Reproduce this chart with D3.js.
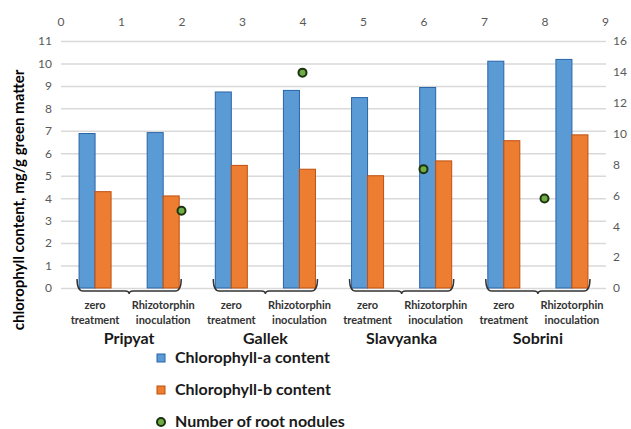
<!DOCTYPE html>
<style>
body { margin: 0; background: #fff; }
text { font-family: Lato, "Open Sans", sans-serif; }
</style>
<body></body>
<script src="https://d3js.org/d3.v7.min.js"></script>
<script>
const categories = ['P-zero', 'P-rh', 'G-zero', 'G-rh', 'S-zero', 'S-rh', 'B-zero', 'B-rh']
const treatmentLabels = [['zero', 'treatment'], ['Rhizotorphin', 'inoculation']]
const varieties = ['Pripyat', 'Gallek', 'Slavyanka', 'Sobrini']
const chlorophyllA = [6.88, 6.92, 8.73, 8.8, 8.48, 8.93, 10.1, 10.18]
const chlorophyllB = [4.29, 4.1, 5.46, 5.29, 5.0, 5.66, 6.56, 6.82]
const nodulesX = [2, 4, 6, 8]
const nodules = [5.0, 13.95, 7.7, 5.8]
const legendLabels = ['Chlorophyll-a content', 'Chlorophyll-b content', 'Number of root nodules']

const width = 631
const height = 429
const plot = { left: 61, right: 606, top: 41, bottom: 288 }

const svg = d3.select('body').append('svg')
    .attr('width', width)
    .attr('height', height)

const y = d3.scaleLinear().domain([0, 11]).range([plot.bottom, plot.top])
const y2 = d3.scaleLinear().domain([0, 16]).range([plot.bottom, plot.top])
const xTop = d3.scaleLinear().domain([0, 9]).range([60.5, 605])
const x0 = d3.scaleBand()
    .domain(categories)
    .range([plot.left, plot.right])
    .paddingInner(0.53)
    .paddingOuter(0.265)
const x1 = d3.scaleBand().domain(['a', 'b']).range([0, x0.bandwidth()])

// left axis + gridlines
const leftAxis = svg.append('g')
    .attr('transform', `translate(${plot.left},0)`)
    .call(d3.axisLeft(y).ticks(11).tickSize(-(plot.right - plot.left)).tickPadding(9))
leftAxis.select('.domain').remove()
leftAxis.selectAll('line').attr('stroke', '#d9d9d9').attr('stroke-width', 1.5)
leftAxis.selectAll('text').attr('fill', '#595959').style('font-size', '12px')

// right axis
const rightAxis = svg.append('g')
    .attr('transform', `translate(${plot.right},0)`)
    .call(d3.axisRight(y2).tickValues(d3.range(0, 17, 2)).tickSize(0).tickPadding(7))
rightAxis.select('.domain').remove()
rightAxis.selectAll('text').attr('fill', '#595959').style('font-size', '12px')

// top axis
const topAxis = svg.append('g')
    .attr('transform', `translate(0,${plot.top})`)
    .call(d3.axisTop(xTop).ticks(9).tickSize(0).tickPadding(15))
topAxis.select('.domain').remove()
topAxis.selectAll('text').attr('fill', '#595959').style('font-size', '12px')

// bars
const bars = svg.append('g')
categories.forEach((c, i) => {
    bars.append('rect')
        .attr('x', x0(c) + x1('a'))
        .attr('y', y(chlorophyllA[i]))
        .attr('width', x1.bandwidth())
        .attr('height', y(0) - y(chlorophyllA[i]))
        .attr('fill', '#5b9bd5')
        .attr('stroke', '#2a64a8')
        .attr('stroke-width', 1)
    bars.append('rect')
        .attr('x', x0(c) + x1('b'))
        .attr('y', y(chlorophyllB[i]))
        .attr('width', x1.bandwidth())
        .attr('height', y(0) - y(chlorophyllB[i]))
        .attr('fill', '#ed7d31')
        .attr('stroke', '#c0500f')
        .attr('stroke-width', 1)
})

// braces under each variety
varieties.forEach((v, g) => {
    const xa = x0(categories[2 * g]) - 2
    const xb = x0(categories[2 * g + 1]) + x0.bandwidth() + 2
    const mid = (xa + xb) / 2
    const top = 279, base = 291
    svg.append('path')
        .attr('d', `M${xa},${top} Q${xa},${base} ${xa + 6},${base} L${mid - 4},${base} Q${mid},${base} ${mid},${base + 3} Q${mid},${base} ${mid + 4},${base} L${xb - 6},${base} Q${xb},${base} ${xb},${top}`)
        .attr('fill', 'none')
        .attr('stroke', '#333')
        .attr('stroke-width', 1.5)
    svg.append('text')
        .attr('x', mid)
        .attr('y', 344)
        .attr('text-anchor', 'middle')
        .attr('fill', '#1a1a1a')
        .style('font-size', '16px')
        .style('font-weight', 'bold')
        .text(v)
})

// treatment labels
categories.forEach((c, i) => {
    const t = svg.append('text')
        .attr('text-anchor', 'middle')
        .attr('fill', '#333')
        .style('font-size', '11px')
        .style('font-weight', 'bold')
    treatmentLabels[i % 2].forEach((line, k) => {
        t.append('tspan')
            .attr('x', x0(c) + x0.bandwidth() / 2)
            .attr('y', 309 + k * 15)
            .text(line)
    })
})

// nodules dots
svg.append('g').selectAll('circle')
    .data(nodules)
    .join('circle')
    .attr('cx', (d, i) => xTop(nodulesX[i]))
    .attr('cy', d => y2(d))
    .attr('r', 4)
    .attr('fill', '#70ad47')
    .attr('stroke', '#1c3310')
    .attr('stroke-width', 2)

// y title
svg.append('text')
    .attr('transform', 'translate(24,200) rotate(-90)')
    .attr('text-anchor', 'middle')
    .attr('fill', '#000')
    .style('font-size', '15px')
    .style('font-weight', 'bold')
    .text('chlorophyll content, mg/g green matter')

// legend
const legend = svg.append('g')
legendLabels.forEach((label, i) => {
    const ly = 358 + i * 32
    if (i < 2) {
        legend.append('rect')
            .attr('x', 157).attr('y', ly - 4)
            .attr('width', 8).attr('height', 8)
            .attr('fill', i === 0 ? '#5b9bd5' : '#ed7d31')
            .attr('stroke', i === 0 ? '#2a64a8' : '#c0500f')
    } else {
        legend.append('circle')
            .attr('cx', 161).attr('cy', ly)
            .attr('r', 4)
            .attr('fill', '#70ad47')
            .attr('stroke', '#1c3310')
            .attr('stroke-width', 2)
    }
    legend.append('text')
        .attr('x', 175).attr('y', ly + 5)
        .attr('fill', '#1a1a1a')
        .style('font-size', '16px')
        .style('font-weight', 'bold')
        .text(label)
})
</script>
